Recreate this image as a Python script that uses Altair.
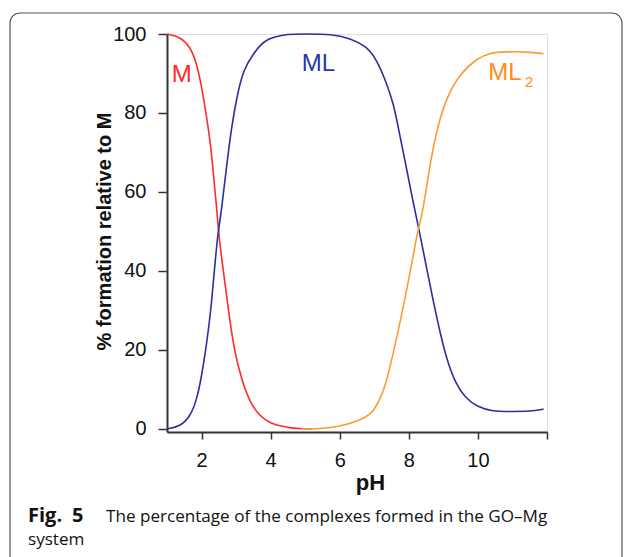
import altair as alt
import pandas as pd

# ---- data ----
m_ph = [1.0, 1.38, 1.67, 1.86, 2.0, 2.15, 2.27, 2.36, 2.46, 2.5, 2.63, 2.78, 2.94,
        3.16, 3.41, 3.7, 4.0, 4.3, 4.6, 4.9, 5.2]
m_val = [100, 99.3, 96.8, 92.6, 86.7, 79, 71.5, 63, 53.8, 49, 40, 30, 20,
         12.4, 6.5, 3.1, 1.4, 0.7, 0.2, 0, 0]

ml_ph = [1.0, 1.38, 1.67, 1.86, 2.0, 2.15, 2.27, 2.37, 2.46, 2.58, 2.73, 2.87, 3.02,
         3.21, 3.5, 3.7, 3.89, 4.1, 4.47, 5.0, 5.77, 6.3, 6.79, 7.07, 7.32, 7.56, 7.7,
         7.9, 8.09, 8.28, 8.53, 8.72, 8.91, 9.1, 9.35, 9.64, 9.97, 10.41, 11.0,
         11.52, 11.9]
ml_val = [0, 0.6, 3.1, 7.3, 13.2, 21.7, 30, 40, 48.7, 55.4, 67, 76.5, 84,
          91, 95, 97.2, 98.5, 99.2, 100, 100, 100, 98.9, 96.8, 93.4, 88.4, 82.4, 76,
          67.5, 58.8, 51.2, 40, 31.8, 24.2, 17.5, 11.5, 7.8, 5.6, 4.4, 4.4,
          4.4, 5]

ml2_ph = [4.9, 5.43, 6.0, 6.5, 6.75, 6.88, 7.0, 7.17, 7.32, 7.46, 7.7, 7.9, 8.09,
          8.26, 8.38, 8.53, 8.67, 8.86, 9.1, 9.49, 9.97, 10.36, 10.8, 11.43, 11.9]
ml2_val = [0, 0, 0.6, 1.9, 3.0, 3.8, 4.9, 7.6, 11.0, 15.8, 25, 33.5, 42,
           50.4, 53.8, 62.2, 69.8, 77.4, 84.1, 90, 93.8, 95.3, 95.5, 95.5, 95]

x_ticks = [2, 4, 6, 8, 10, 12]
y_ticks = [0, 10, 20, 30, 40, 50, 60, 70, 80, 90, 100]

labels = ["M", "ML", "ML", "2"]
label_ph = [1.43, 5.38, 10.3, 11.36]
label_val = [87.8, 90.7, 88.4, 86.6]

caption_bold = "Fig.\u20025"
caption_line1 = "The percentage of the complexes formed in the GO\u2013Mg"
caption_line2 = "system"

x_title = "pH"
y_title = "% formation relative to M"

RED = "#ff2a2a"
BLUE = "#2e2e9e"
ORANGE = "#ff9a33"

W, H = 380, 398
PL, PT = 167, 34

xs = alt.Scale(domain=[1, 12], nice=False, zero=False)
ys = alt.Scale(domain=[-0.8, 100], nice=False, zero=False)

x_axis = alt.Axis(values=x_ticks, labelExpr="datum.value == 12 ? '' : datum.label",
                  grid=False, tickSize=7, tickWidth=1.5, tickColor="#333",
                  domainColor="#333", domainWidth=2, labelFont="Liberation Sans",
                  labelFontSize=20, labelColor="#111", labelPadding=11,
                  title=x_title, titleFont="Liberation Sans", titleFontSize=22,
                  titleFontWeight="bold", titleColor="#111",
                  titleX=203, titleY=57, titleBaseline="alphabetic", titleAlign="center")
y_axis = alt.Axis(values=y_ticks, labelExpr="datum.value % 20 == 0 ? datum.label : ''",
                  grid=False, tickSize=9, tickWidth=1.5, tickColor="#333",
                  domainColor="#333", domainWidth=2, labelFont="Liberation Sans",
                  labelFontSize=20, labelColor="#111", labelPadding=12,
                  title=y_title, titleFont="Liberation Sans", titleFontSize=20,
                  titleFontWeight="bold", titleColor="#111", titleAngle=-90,
                  titleX=-57, titleY=197, titleBaseline="alphabetic", titleAlign="center")


def line(ph, val, color, first=False):
    df = pd.DataFrame({"ph": ph, "v": val})
    c = alt.Chart(df).mark_line(color=color, strokeWidth=1.6, interpolate="basis")
    if first:
        return c.encode(x=alt.X("ph:Q", scale=xs, axis=x_axis),
                        y=alt.Y("v:Q", scale=ys, axis=y_axis))
    return c.encode(x=alt.X("ph:Q", scale=xs), y=alt.Y("v:Q", scale=ys))


l_m = line(m_ph, m_val, RED, first=True)
l_ml = line(ml_ph, ml_val, BLUE)
l_ml2 = line(ml2_ph, ml2_val, ORANGE)

lab_df = pd.DataFrame({"t": labels, "ph": label_ph, "v": label_val,
                       "c": [RED, "#2a3aa0", "#ff8c1a", "#ff8c1a"],
                       "s": [24, 24, 24, 15],
                       "a": ["center", "center", "left", "left"]})
lab_layers = []
for i in range(len(labels)):
    lab_layers.append(
        alt.Chart(lab_df.iloc[[i]]).mark_text(
            font="Liberation Sans", fontSize=int(lab_df.s[i]), color=lab_df.c[i],
            align=lab_df.a[i], baseline="alphabetic"
        ).encode(x=alt.X("ph:Q", scale=xs), y=alt.Y("v:Q", scale=ys), text="t:N")
    )

one = pd.DataFrame({"k": [0]})
border = alt.Chart(one).mark_rect(fillOpacity=0, stroke="#555", strokeWidth=1.2,
                                  cornerRadius=10).encode(
    x=alt.value(10 - PL), x2=alt.value(622 - PL), y=alt.value(13 - PT), y2=alt.value(600))

cap_b = alt.Chart(pd.DataFrame({"t": [caption_bold]})).mark_text(
    font="Open Sans", fontSize=20, fontWeight="bold", align="left",
    baseline="alphabetic", color="#111").encode(
    x=alt.value(28 - PL), y=alt.value(522 - PT), text="t:N")
cap_1 = alt.Chart(pd.DataFrame({"t": [caption_line1]})).mark_text(
    font="Open Sans", fontSize=17.1, align="left",
    baseline="alphabetic", color="#111").encode(
    x=alt.value(106 - PL), y=alt.value(522 - PT), text="t:N")
cap_2 = alt.Chart(pd.DataFrame({"t": [caption_line2]})).mark_text(
    font="Open Sans", fontSize=17.1, align="left",
    baseline="alphabetic", color="#111").encode(
    x=alt.value(28 - PL), y=alt.value(545 - PT), text="t:N")

chart = alt.layer(l_m, l_ml, l_ml2, *lab_layers, border, cap_b, cap_1, cap_2).properties(
    width=W, height=H,
    autosize=alt.AutoSizeParams(type="none"),
    padding={"left": PL, "top": PT, "right": 629 - PL - W, "bottom": 557 - PT - H},
).configure_view(stroke="#555", strokeWidth=1.5).configure(background="white")

chart.save("out.html", embed_options={"renderer": "svg", "actions": False})
